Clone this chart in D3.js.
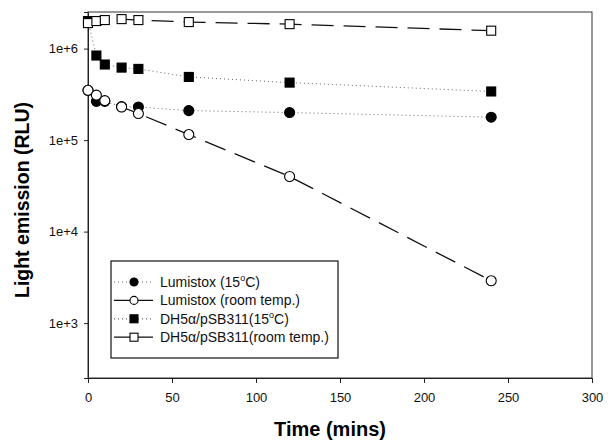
<!DOCTYPE html>
<html>
<head>
<meta charset="utf-8">
<script src="https://cdn.jsdelivr.net/npm/d3@7"></script>
<style>
  body { margin: 0; background: #fff; }
  svg { font-family: "Liberation Sans", Arial, sans-serif; }
</style>
</head>
<body>
<div id="chart"></div>
<script>
(function() {
  // data
  var times = [0, 5, 10, 20, 30, 60, 120, 240];
  var lumi15 = [350000, 265000, 265000, 232000, 230000, 210000, 200000, 178000];
  var lumiRT = [350000, 310000, 270000, 230000, 195000, 115000, 40000, 2900];
  var dh15 = [2000000, 840000, 670000, 620000, 600000, 490000, 425000, 340000];
  var dhRT = [1900000, 2000000, 2050000, 2100000, 2050000, 1950000, 1850000, 1570000];
  var seriesNames = ["Lumistox (15", "Lumistox (room temp.)", "DH5\u03b1/pSB311(15", "DH5\u03b1/pSB311(room temp.)"];
  var xTicks = [0, 50, 100, 150, 200, 250, 300];
  var yTicks = [1e3, 1e4, 1e5, 1e6];

  var margin = { top: 12, left: 88, right: 19, bottom: 65 },
    width = 611 - margin.left - margin.right,
    height = 443 - margin.top - margin.bottom;

  var svg = d3.select("#chart")
    .append("svg")
    .attr("width", 611)
    .attr("height", 443);

  var g = svg.append("g")
    .attr("transform", "translate(" + margin.left + "," + margin.top + ")");

  var x = d3.scaleLinear().domain([0, 300]).range([0, width]);
  var y = d3.scaleLog().domain([Math.pow(10, 2.4), Math.pow(10, 6.4)]).range([height, 0]);

  // frame
  g.append("rect")
    .attr("width", width).attr("height", height)
    .attr("fill", "none").attr("stroke", "#333").attr("stroke-width", 1);

  var xAxis = g.append("g")
    .attr("transform", "translate(0," + height + ")")
    .call(d3.axisBottom(x).tickValues(xTicks).tickSize(5).tickPadding(10));

  var yAxis = g.append("g")
    .call(d3.axisLeft(y).tickValues(yTicks).tickSize(4).tickPadding(6)
      .tickFormat(function(d) { return "1e+" + Math.round(Math.log10(d)); }));

  [xAxis, yAxis].forEach(function(a) {
    a.selectAll("text").attr("font-size", 13).attr("fill", "#111")
      .attr("font-family", "Liberation Sans, Arial, sans-serif");
    a.selectAll("line").attr("stroke", "#222");
    a.select(".domain").attr("stroke", "#222");
  });

  svg.append("text")
    .attr("x", 330).attr("y", 436)
    .attr("text-anchor", "middle")
    .attr("font-size", 20).attr("font-weight", "bold")
    .text("Time (mins)");

  svg.append("text")
    .attr("transform", "translate(29,200) rotate(-90)")
    .attr("text-anchor", "middle")
    .attr("font-size", 19.5).attr("font-weight", "bold")
    .text("Light emission (RLU)");

  var series = [
    { name: seriesNames[0], values: lumi15, shape: "circle", fill: "#000", dash: "1,3", sup: true },
    { name: seriesNames[1], values: lumiRT, shape: "circle", fill: "#fff", dash: "22,10", sup: false },
    { name: seriesNames[2], values: dh15, shape: "square", fill: "#000", dash: "1,3", sup: true },
    { name: seriesNames[3], values: dhRT, shape: "square", fill: "#fff", dash: "22,10", sup: false }
  ];

  var line = d3.line()
    .x(function(d) { return x(d[0]); })
    .y(function(d) { return y(d[1]); });

  function marker(sel, s, size) {
    if (s.shape === "circle") {
      sel.append("circle").attr("r", size / 2);
    } else {
      sel.append("rect").attr("x", -size / 2).attr("y", -size / 2).attr("width", size).attr("height", size);
    }
    sel.selectAll("circle, rect")
      .attr("fill", s.fill).attr("stroke", "#000").attr("stroke-width", 1.1);
  }

  // lines first, then markers; open symbols end up on top
  series.forEach(function(s) {
    var pts = times.map(function(t, j) { return [t, s.values[j]]; });
    g.append("path")
      .datum(pts)
      .attr("d", line)
      .attr("fill", "none")
      .attr("stroke", s.fill === "#000" ? "#666" : "#111")
      .attr("stroke-width", s.fill === "#000" ? 1 : 1.3)
      .attr("stroke-dasharray", s.dash);
  });
  [0, 2, 1, 3].forEach(function(i) {
    var s = series[i];
    times.forEach(function(t, j) {
      var m = g.append("g")
        .attr("transform", "translate(" + x(t) + "," + y(s.values[j]) + ")");
      marker(m, s, s.shape === "circle" ? 10 : 9);
    });
  });

  // legend
  var legend = svg.append("g").attr("transform", "translate(111,261)");
  legend.append("rect")
    .attr("width", 227).attr("height", 97)
    .attr("fill", "#fff").attr("stroke", "#111").attr("stroke-width", 1.2);

  series.forEach(function(s, i) {
    var row = legend.append("g").attr("transform", "translate(0," + (21 + i * 18.4) + ")");
    row.append("line")
      .attr("x1", 3).attr("x2", 42)
      .attr("stroke", s.fill === "#000" ? "#666" : "#111")
      .attr("stroke-width", 1.2)
      .attr("stroke-dasharray", s.fill === "#000" ? "1,3" : null);
    var m = row.append("g").attr("transform", "translate(23,0)");
    marker(m, s, 8);
    var t = row.append("text")
      .attr("x", 49).attr("y", 5)
      .attr("font-size", 14).attr("fill", "#111");
    t.append("tspan").text(s.name);
    if (s.sup) {
      t.append("tspan").attr("font-size", 9).attr("dy", -6).text("o");
      t.append("tspan").attr("dy", 6).text("C)");
    }
  });
})();
</script>
</body>
</html>
